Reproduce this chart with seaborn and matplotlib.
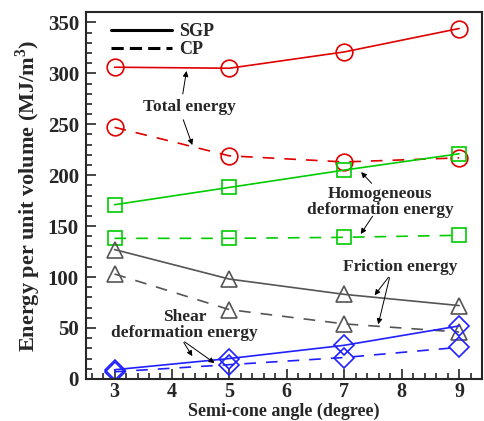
import numpy as np
import pandas as pd
import matplotlib
matplotlib.use("Agg")
import matplotlib.pyplot as plt
import seaborn as sns
from matplotlib.ticker import MultipleLocator

angles = [3, 5, 7, 9]

total_sgp = [306, 305, 321, 344]
total_cp = [247, 219, 213, 217]
homog_sgp = [171, 188, 205, 221]
homog_cp = [138, 138, 139, 141]
fric_sgp = [127, 98, 83, 72]
fric_cp = [103, 68, 54, 46]
shear_sgp = [9, 20, 33, 52]
shear_cp = [7, 14, 21, 31]

# long table for seaborn
rows = []
series = [
    ("total", "SGP", total_sgp), ("total", "CP", total_cp),
    ("homog", "SGP", homog_sgp), ("homog", "CP", homog_cp),
    ("fric", "SGP", fric_sgp), ("fric", "CP", fric_cp),
    ("shear", "SGP", shear_sgp), ("shear", "CP", shear_cp),
]
for kind, model, vals in series:
    for a, v in zip(angles, vals):
        rows.append({"kind": kind, "model": model, "angle": a, "energy": v})
df = pd.DataFrame(rows)

colors = {"total": "#e00000", "homog": "#00cc00", "fric": "#555555", "shear": "#2020ff"}
markers = {"total": "o", "homog": "s", "fric": "^", "shear": "D"}
msizes = {"total": 12, "homog": 10, "fric": 11, "shear": 10}

sns.set_style("ticks")
plt.rcParams["font.family"] = ["Liberation Serif", "DejaVu Serif"]
plt.rcParams["font.weight"] = "bold"
plt.rcParams["mathtext.fontset"] = "custom"
plt.rcParams["mathtext.rm"] = "Liberation Serif:bold"

fig = plt.figure(figsize=(4.85, 4.21), dpi=100)
ax = fig.add_axes([0.177, 0.1, 0.817, 0.871])

for kind, model, vals in series:
    sub = df[(df["kind"] == kind) & (df["model"] == model)]
    ls = "-" if model == "SGP" else (0, (7, 6))
    sns.lineplot(data=sub, x="angle", y="energy", ax=ax, color=colors[kind],
                 linestyle=ls, linewidth=1.2, marker=markers[kind],
                 markersize=msizes[kind], markerfacecolor="none",
                 markeredgecolor=colors[kind], markeredgewidth=1.2,
                 legend=False)

# legend handles
ax.plot([], [], color="black", lw=2.2, ls="-", label="SGP")
ax.plot([], [], color="black", lw=2.2, ls=(0, (4, 2)), label="CP")
leg = ax.legend(loc="upper left", bbox_to_anchor=(0.035, 1.0), frameon=False,
                handlelength=3.4, handletextpad=0.4,
                borderaxespad=0.2, labelspacing=0.05,
                prop={"family": "Liberation Serif", "weight": "bold", "size": 13})

ax.set_xlim(2.5, 9.4)
ax.set_ylim(0, 360)
ax.xaxis.set_major_locator(MultipleLocator(1))
ax.xaxis.set_minor_locator(MultipleLocator(0.2))
ax.yaxis.set_major_locator(MultipleLocator(50))
ax.yaxis.set_minor_locator(MultipleLocator(10))
ax.tick_params(which="both", direction="in", width=1.2)
ax.tick_params(which="major", length=7)
ax.tick_params(which="minor", length=4)
ax.tick_params(axis="y", labelsize=15, pad=5)
ax.tick_params(axis="x", labelsize=14.5, pad=2)
for lab in ax.get_xticklabels() + ax.get_yticklabels():
    lab.set_fontweight("bold")
for s in ax.spines.values():
    s.set_linewidth(1.5)

ax.set_xlabel("Semi-cone angle (degree)", fontsize=13, fontweight="bold", labelpad=1)
ax.set_ylabel("Energy per unit volume (MJ/m$^3$)", fontsize=16, fontweight="bold", labelpad=3)

arrow = dict(arrowstyle="-|>", color="black", lw=0.7, mutation_scale=8)
tkw = dict(fontsize=12.5, fontweight="bold", ha="center", va="center", linespacing=1.0)

ax.text(4.31, 267, "Total energy", **tkw)
ax.annotate("", xy=(4.26, 305), xytext=(4.18, 277), arrowprops=arrow)
ax.annotate("", xy=(4.37, 227), xytext=(4.18, 257), arrowprops=arrow)

ax.text(7.63, 174, "Homogeneous\ndeformation energy", **tkw)
ax.annotate("", xy=(7.26, 205), xytext=(7.51, 190), arrowprops=arrow)
ax.annotate("", xy=(7.26, 140), xytext=(7.52, 162), arrowprops=arrow)

ax.text(7.97, 110, "Friction energy", **tkw)
ax.annotate("", xy=(7.5, 80), xytext=(7.8, 102), arrowprops=arrow)
ax.annotate("", xy=(7.58, 51), xytext=(7.8, 102), arrowprops=arrow)

ax.text(4.22, 53, "Shear\ndeformation energy", **tkw)
ax.annotate("", xy=(4.38, 20), xytext=(4.18, 38), arrowprops=arrow)
ax.annotate("", xy=(4.78, 14), xytext=(4.18, 38), arrowprops=arrow)

fig.savefig("out.png", dpi=100)
